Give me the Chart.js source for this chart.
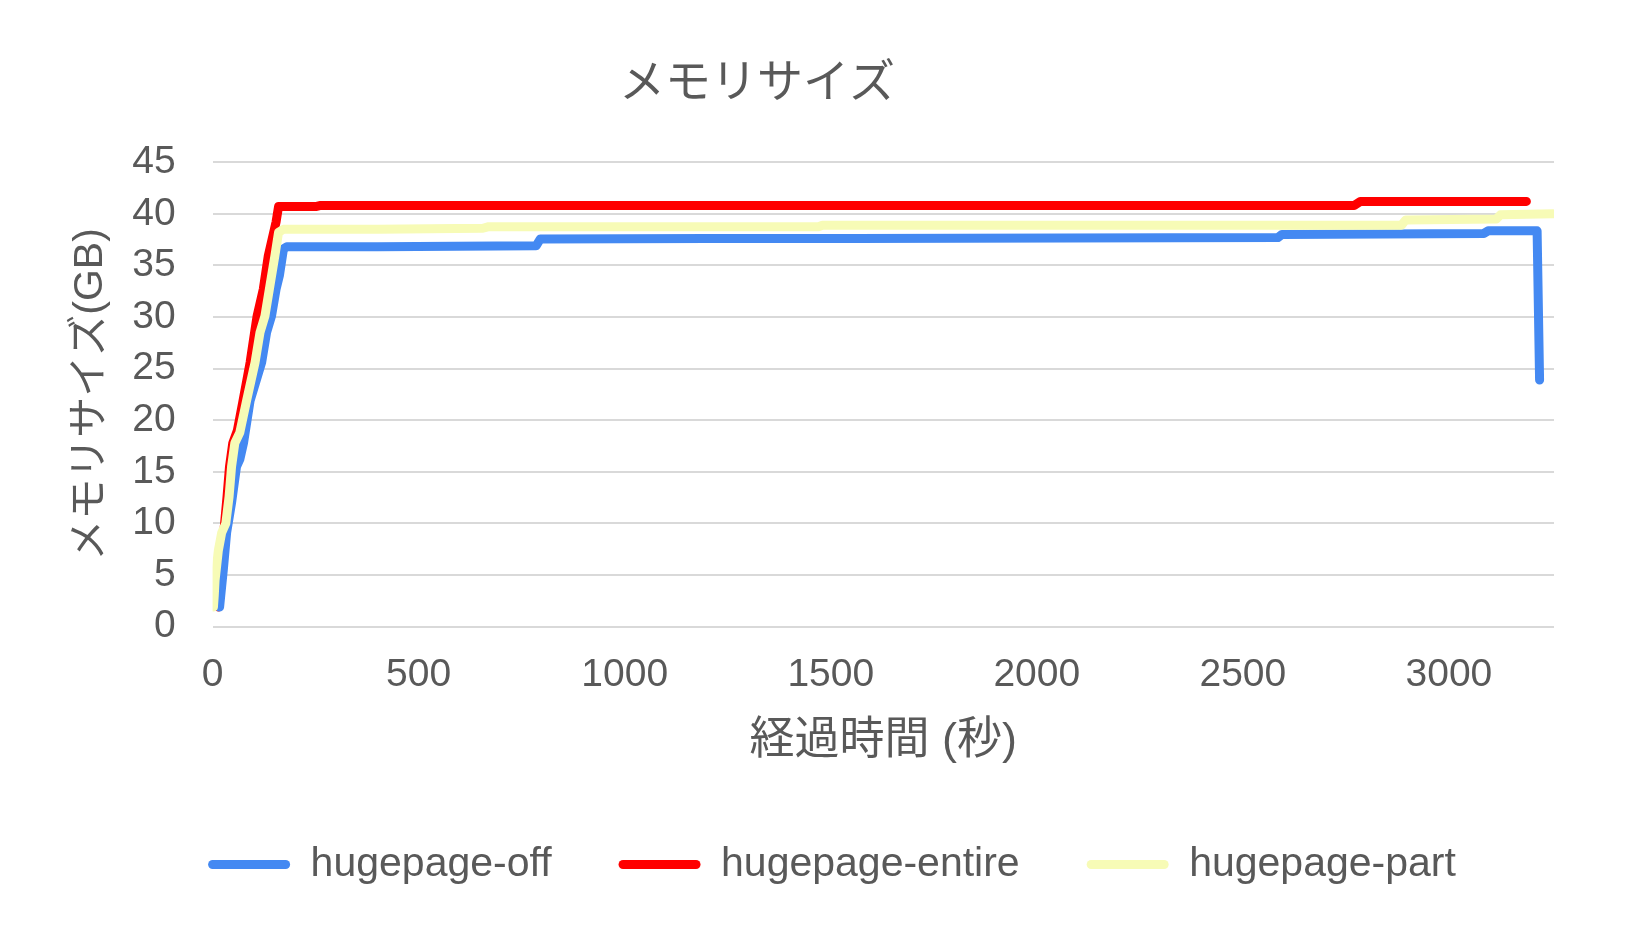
<!DOCTYPE html>
<html>
<head>
<meta charset="utf-8">
<script src="https://cdn.jsdelivr.net/npm/chart.js@4/dist/chart.umd.min.js"></script>
<style>
html,body{margin:0;padding:0;background:#fff;}
#wrap{width:1650px;height:928px;position:relative;}
</style>
</head>
<body>
<div id="wrap"><canvas id="c" width="1650" height="928"></canvas></div>
<script>
// ---- data (seconds, GB) ----
const chartTitle = 'メモリサイズ';
const xTitle = '経過時間 (秒)';
const yTitle = 'メモリサイズ(GB)';
const seriesNames = ['hugepage-off', 'hugepage-entire', 'hugepage-part'];

const offTimes  = [17, 26, 34, 46, 58, 66, 75, 91, 119, 131, 143, 154, 162, 172, 180, 400, 785, 795, 1200, 1560, 2585, 2595, 3085, 3095, 3214, 3220];
const offValues = [1.9, 5.5, 9.1, 12.0, 15.5, 16.2, 17.8, 21.9, 25.6, 28.5, 30.1, 32.7, 34.0, 36.6, 36.8, 36.8, 36.9, 37.55, 37.6, 37.6, 37.7, 38.0, 38.1, 38.35, 38.35, 23.9];

const entireTimes  = [14, 19, 27, 35, 41, 49, 60, 73, 91, 103, 108, 123, 135, 154, 160, 176, 250, 260, 1500, 2770, 2785, 3188];
const entireValues = [1.9, 5.0, 9.1, 12.6, 15.5, 17.8, 19.0, 21.7, 25.6, 28.8, 30.1, 32.7, 35.9, 39.2, 40.7, 40.7, 40.7, 40.8, 40.8, 40.8, 41.2, 41.2];

const partTimes  = [2, 4, 6, 14, 22, 32, 40, 46, 54, 66, 83, 103, 115, 127, 139, 151, 160, 172, 400, 656, 670, 1470, 1480, 2885, 2895, 3115, 3125, 3253];
const partValues = [1.9, 3.0, 4.5, 7.4, 9.1, 10.0, 12.6, 15.5, 17.8, 18.8, 22.0, 25.6, 28.5, 30.1, 33.0, 35.9, 38.2, 38.5, 38.5, 38.6, 38.75, 38.75, 38.9, 38.9, 39.4, 39.5, 39.9, 40.0];

const xTickValues = [0, 500, 1000, 1500, 2000, 2500, 3000];
const xMax = 3255;
const yTickStep = 5, yMax = 45;

const colors = ['#4489F2', '#FF0000', '#F7FBB6'];
const FONT = '"Liberation Sans", Arial, "Noto Sans CJK JP", sans-serif';
const TXT = '#595959';

function pts(ts, vs){ return ts.map((t,i)=>({x:t, y:vs[i]})); }

const shiftBoxes = {
  id: 'shiftBoxes',
  afterLayout(chart){
    if (chart.titleBlock){ chart.titleBlock.left = 0; chart.titleBlock.right = 1514; }
    if (chart.legend){ chart.legend.left = 0; chart.legend.right = 1664; }
  }
};

new Chart(document.getElementById('c'), {
  type: 'line',
  data: {
    datasets: [
      {label: seriesNames[0], data: pts(offTimes, offValues), borderColor: colors[0], backgroundColor: colors[0], order: 1},
      {label: seriesNames[1], data: pts(entireTimes, entireValues), borderColor: colors[1], backgroundColor: colors[1], order: 2},
      {label: seriesNames[2], data: pts(partTimes, partValues), borderColor: colors[2], backgroundColor: colors[2], order: 0}
    ]
  },
  options: {
    responsive: false,
    animation: false,
    elements: {
      line: {borderWidth: 9, tension: 0, borderCapStyle: 'round', borderJoinStyle: 'round'},
      point: {radius: 0, hoverRadius: 0}
    },
    layout: {padding: {left: 0, right: 96, top: 0, bottom: 33}},
    scales: {
      x: {
        type: 'linear', min: 0, max: xMax, bounds: 'data',
        afterBuildTicks(s){ s.ticks = xTickValues.map(v => ({value: v})); },
        ticks: {color: TXT, padding: 25, maxRotation: 0, autoSkip: false,
                callback: v => String(v),
                font: {family: FONT, size: 39}},
        grid: {display: false, drawTicks: false},
        border: {display: false},
        title: {display: true, text: xTitle, color: TXT, font: {family: FONT, size: 45}, padding: {top: 0, bottom: 8}},
        afterFit(s){ s.height = 150.3; }
      },
      y: {
        type: 'linear', min: 0, max: yMax,
        ticks: {stepSize: yTickStep, color: TXT, padding: 37, font: {family: FONT, size: 39}},
        grid: {color: '#D9D9D9', lineWidth: 2, drawTicks: false},
        border: {display: false},
        title: {display: true, text: yTitle, color: TXT, font: {family: FONT, size: 41}, padding: {top: 66, bottom: 0}},
        afterFit(s){ s.width = 212.6; }
      }
    },
    plugins: {
      title: {display: true, text: chartTitle, color: TXT,
              font: {family: FONT, size: 46, weight: 'normal'}, padding: {top: 57, bottom: 50}},
      legend: {
        position: 'bottom',
        labels: {
          boxWidth: 82, boxHeight: 9, padding: 67, color: TXT,
          font: {family: FONT, size: 41},
          generateLabels(chart){
            return chart.data.datasets.map((d,i)=>({
              text: d.label, fillStyle: d.borderColor, strokeStyle: d.borderColor,
              lineWidth: 0, borderRadius: 4.5, datasetIndex: i, hidden: false, fontColor: TXT
            }));
          }
        }
      },
      tooltip: {enabled: false}
    }
  },
  plugins: [shiftBoxes]
});
</script>
</body>
</html>
